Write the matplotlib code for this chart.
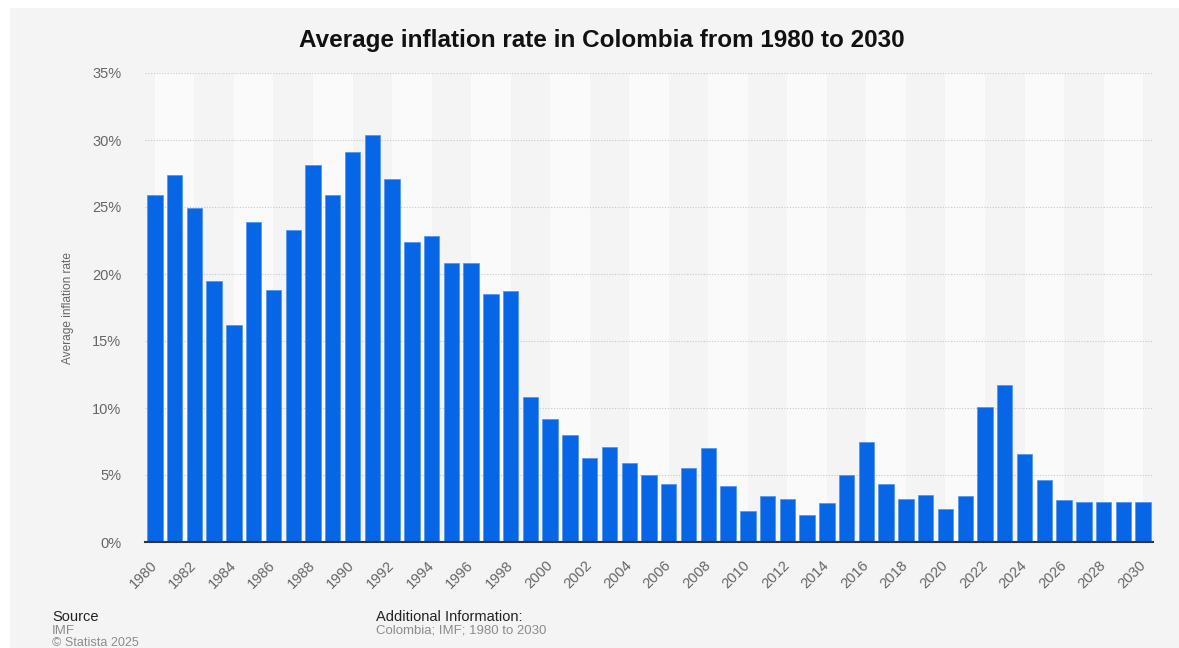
import matplotlib
matplotlib.use("Agg")
import matplotlib.pyplot as plt
from matplotlib.patches import Rectangle
from matplotlib.ticker import FuncFormatter, MultipleLocator

# Average annual inflation rate in Colombia (%), 1980-2030
years = list(range(1980, 2031))
inflation = [25.9, 27.4, 24.9, 19.5, 16.2, 23.9, 18.8, 23.3, 28.1, 25.9,
             29.1, 30.4, 27.1, 22.4, 22.8, 20.8, 20.8, 18.5, 18.7, 10.8,
             9.2, 8.0, 6.3, 7.1, 5.9, 5.0, 4.3, 5.5, 7.0, 4.2,
             2.3, 3.4, 3.2, 2.0, 2.9, 5.0, 7.5, 4.3, 3.2, 3.5,
             2.5, 3.4, 10.1, 11.7, 6.6, 4.6, 3.1, 3.0, 3.0, 3.0, 3.0]
tick_years = years[::2]
tick_labels = [str(y) for y in tick_years]

title = "Average inflation rate in Colombia from 1980 to 2030"
y_label = "Average inflation rate"

BAR_COLOR = "#0766e5"
PANEL = "#f4f4f4"
BAND = "#fafafa"
FONT = ["Liberation Sans", "DejaVu Sans"]

W, H = 1179, 648
fig = plt.figure(figsize=(W / 100, H / 100), dpi=100)
fig.patch.set_facecolor("white")
fig.patches.append(Rectangle((10 / W, 0), 1 - 10 / W, (H - 8) / H,
                             transform=fig.transFigure, facecolor=PANEL,
                             edgecolor="none", zorder=-10))

ax = fig.add_axes([145 / W, 106 / H, 1008 / W, 469 / H])
ax.patch.set_visible(False)
ax.set_xlim(years[0] - 0.5, years[-1] + 0.5)
ax.set_ylim(0, 35)

# alternating light bands between every other pair of tick positions
for start in range(years[0], years[-1], 4):
    ax.axvspan(start, start + 2, color=BAND, zorder=0, lw=0)

ax.bar(years, inflation, width=0.78, color=BAR_COLOR,
       edgecolor="#4d92ee", linewidth=0.5, zorder=3)

ax.yaxis.set_major_locator(MultipleLocator(5))
ax.yaxis.set_major_formatter(FuncFormatter(lambda v, _: f"{v:.0f}%"))
ax.yaxis.grid(True, linestyle=(0, (1, 1.5)), color="#c8c8c8", linewidth=0.8, zorder=1)
ax.set_axisbelow(True)

ax.set_xticks(tick_years)
ax.set_xticklabels(tick_labels, rotation=45, ha="right", va="center",
                   rotation_mode="anchor", family=FONT, fontsize=10.5,
                   color="#666666")
for lbl in ax.get_yticklabels():
    lbl.set_family(FONT)
    lbl.set_fontsize(10.5)
    lbl.set_color("#666666")
ax.tick_params(axis="x", length=0, pad=15)
ax.tick_params(axis="y", length=0, pad=17)

for side in ("top", "right", "left"):
    ax.spines[side].set_visible(False)
ax.spines["bottom"].set_color("#333333")
ax.spines["bottom"].set_linewidth(1.5)
ax.spines["bottom"].set_zorder(4)

fig.text(68 / W, 1 - 308 / H, y_label, rotation=90, ha="center", va="center",
         family=FONT, fontsize=8.6, color="#666666")

fig.text(602 / W, 1 - 40 / H, title, ha="center", va="center",
         family=FONT, fontsize=17.5, fontweight="bold", color="#111111")

# footer
fig.text(52 / W, 1 - 617 / H, "Source", ha="left", va="center",
         family=FONT, fontsize=10.5, color="#222222")
fig.text(52 / W, 1 - 630.5 / H, "IMF", ha="left", va="center",
         family=FONT, fontsize=9.5, color="#8c8c8c")
fig.text(52 / W, 1 - 642.5 / H, "\u00a9 Statista 2025", ha="left", va="center",
         family=FONT, fontsize=9, color="#8c8c8c")
fig.text(376 / W, 1 - 617 / H, "Additional Information:", ha="left", va="center",
         family=FONT, fontsize=10.5, color="#222222")
fig.text(376 / W, 1 - 630.5 / H, "Colombia; IMF; 1980 to 2030", ha="left", va="center",
         family=FONT, fontsize=9.5, color="#8c8c8c")

fig.savefig("out.png", dpi=100, facecolor=fig.get_facecolor())
